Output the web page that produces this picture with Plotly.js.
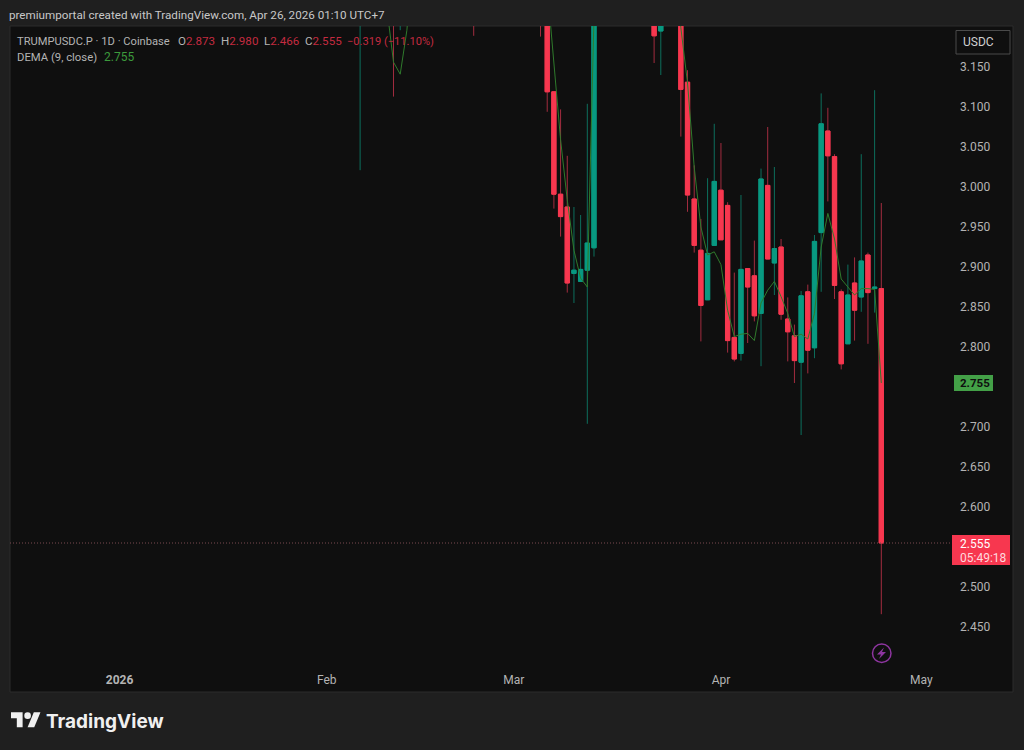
<!DOCTYPE html>
<html><head><meta charset="utf-8">
<script src="https://cdn.plot.ly/plotly-3.0.1.min.js"></script>
<style>html,body{margin:0;padding:0;background:#1f1f1f;overflow:hidden}#chart{width:1024px;height:750px}</style>
</head><body><div id="chart"></div>
<script>
// Candle values; bodies above the visible top are estimates.
const dates = ['2026-02-06','2026-02-11','2026-02-12','2026-02-23','2026-03-05','2026-03-06','2026-03-07','2026-03-08','2026-03-09','2026-03-10','2026-03-11','2026-03-12','2026-03-13','2026-03-22','2026-03-23','2026-03-26','2026-03-27','2026-03-28','2026-03-29','2026-03-30','2026-03-31','2026-04-01','2026-04-02','2026-04-03','2026-04-04','2026-04-05','2026-04-06','2026-04-07','2026-04-08','2026-04-09','2026-04-10','2026-04-11','2026-04-12','2026-04-13','2026-04-14','2026-04-15','2026-04-16','2026-04-17','2026-04-18','2026-04-19','2026-04-20','2026-04-21','2026-04-22','2026-04-23','2026-04-24','2026-04-25'];
const opens  = [3.25,3.35,3.25,3.40,3.40,3.28,3.119,2.991,2.975,2.892,2.882,2.896,2.924,3.28,3.195,3.30,3.131,2.985,2.921,2.859,2.927,2.996,2.977,2.812,2.792,2.898,2.889,2.842,3.002,2.905,2.925,2.835,2.814,2.781,2.869,2.799,2.943,3.070,3.038,2.869,2.804,2.880,2.8625,2.915,2.873,2.873];
const highs  = [3.50,3.40,3.36,3.45,3.45,3.32,3.119,3.097,3.039,2.975,2.965,3.104,3.40,3.32,3.30,3.35,3.146,3.027,2.960,3.011,3.079,3.055,2.981,2.893,2.990,2.898,2.933,3.023,3.075,3.025,2.935,2.862,2.828,2.870,2.878,2.940,3.117,3.099,3.041,2.872,2.903,2.912,3.041,2.918,3.121,2.980];
const lows   = [3.021,3.113,3.196,3.189,3.188,3.094,2.973,2.938,2.868,2.855,2.882,2.704,2.913,3.155,3.140,3.063,2.969,2.918,2.807,2.859,2.927,2.934,2.793,2.782,2.783,2.805,2.832,2.776,2.910,2.865,2.834,2.782,2.755,2.690,2.767,2.786,2.869,2.982,2.860,2.772,2.804,2.808,2.844,2.804,2.843,2.466];
const closes = [3.35,3.25,3.30,3.30,3.28,3.119,2.991,2.963,2.880,2.896,2.897,2.930,3.30,3.189,3.25,3.122,2.990,2.927,2.852,2.917,3.007,2.934,2.808,2.785,2.897,2.875,2.839,3.010,2.910,2.923,2.841,2.819,2.783,2.864,2.796,2.932,3.079,3.039,2.877,2.779,2.865,2.846,2.9075,2.868,2.875,2.555];
const demaDates = ['2026-02-09','2026-02-10','2026-02-11','2026-02-12','2026-02-13','2026-02-14','2026-02-15','2026-03-05','2026-03-06','2026-03-07','2026-03-08','2026-03-09','2026-03-10','2026-03-11','2026-03-12','2026-03-13','2026-03-14','2026-03-25','2026-03-26','2026-03-27','2026-03-28','2026-03-29','2026-03-30','2026-03-31','2026-04-01','2026-04-02','2026-04-03','2026-04-04','2026-04-05','2026-04-06','2026-04-07','2026-04-08','2026-04-09','2026-04-10','2026-04-11','2026-04-12','2026-04-13','2026-04-14','2026-04-15','2026-04-16','2026-04-17','2026-04-18','2026-04-19','2026-04-20','2026-04-21','2026-04-22','2026-04-23','2026-04-24','2026-04-25'];
const demaValues = [3.33,3.224,3.156,3.141,3.196,3.30,null,null,3.251,3.155,3.059,2.984,2.921,2.886,2.875,3.212,3.33,3.30,3.199,3.13,3.025,2.95,2.915,2.919,2.903,2.846,2.813,2.816,2.817,2.808,2.855,2.871,2.882,2.863,2.842,2.813,2.816,2.810,2.842,2.925,2.967,2.935,2.885,2.875,2.865,2.873,2.873,2.872,2.755];
const priceTicks = [3.15,3.10,3.05,3.00,2.95,2.90,2.85,2.80,2.70,2.65,2.60,2.50,2.45];
const timeTicks = ['2026-01-01','2026-02-01','2026-03-01','2026-04-01','2026-05-01'];
const timeLabels = ['<b>2026</b>','Feb','Mar','Apr','May'];
const lastPrice = 2.555, lastDema = 2.755;

const UI = 'Roboto, sans-serif';
const L=10,R=955,T=26,B=665;
const px = x => (x-L)/(R-L);
const py = y => (B-y)/(B-T);
const path = pts => pts.map((p,i)=>(i?'L':'M')+px(p[0]).toFixed(5)+','+py(p[1]).toFixed(5)).join(' ')+' Z';
const logo = (ox,oy,s,pts) => path(pts.map(p=>[ox+p[0]*s,oy+p[1]*s]));
const rect = (x0,y0,x1,y1,fill,line,layer) => ({type:'rect',xref:'paper',yref:'paper',x0:px(x0),x1:px(x1),y0:py(y1),y1:py(y0),fillcolor:fill,line:{color:line||fill,width:line?1:0},layer:layer||'above'});
const note = (x,y,text,size,color,extra) => Object.assign({xref:'paper',yref:'paper',x:px(x),y:py(y),xanchor:'left',yanchor:'middle',showarrow:false,text,borderpad:0,borderwidth:0,font:{family:UI,size,color}},extra||{});

const wicks = {
  type:'candlestick',x:dates,open:opens,high:highs,low:lows,close:closes,whiskerwidth:0,hoverinfo:'skip',
  increasing:{line:{color:'#0d6f5d',width:1},fillcolor:'#089981'},
  decreasing:{line:{color:'#a32c3f',width:1},fillcolor:'#f7374f'}
};
const bodies = {
  type:'candlestick',x:dates,open:opens,close:closes,
  high:opens.map((o,i)=>Math.max(o,closes[i])),low:opens.map((o,i)=>Math.min(o,closes[i])),
  whiskerwidth:0,hoverinfo:'skip',
  increasing:{line:{color:'#089981',width:1},fillcolor:'#089981'},
  decreasing:{line:{color:'#f7374f',width:1},fillcolor:'#f7374f'}
};
const dema = {type:'scatter',mode:'lines',x:demaDates,y:demaValues,connectgaps:false,hoverinfo:'skip',line:{color:'#2f7a2c',width:1}};

const grey='#b4b4b4', red='#c42b40', green='#3c9a3c';
const s=(c,t)=>`<span style="color:${c}">${t}</span>`;
const layout = {
  width:1024,height:750,autosize:false,showlegend:false,dragmode:false,boxmode:'overlay',boxgap:0.2,boxgroupgap:0.2,
  margin:{l:L,r:1024-R,t:T,b:750-B,pad:0},
  paper_bgcolor:'#1f1f1f',plot_bgcolor:'rgba(0,0,0,0)',
  xaxis:{type:'date',range:['2025-12-15 14:24','2026-05-06 00:43'],rangeslider:{visible:false},tickmode:'array',tickvals:timeTicks,ticktext:timeLabels,showgrid:false,zeroline:false,showline:false,ticks:'',ticklabelstandoff:6,tickfont:{family:UI,size:12,color:grey}},
  yaxis:{side:'right',range:[2.4025,3.20125],tickmode:'array',tickvals:priceTicks,tickformat:'.3f',showgrid:false,zeroline:false,showline:false,ticks:'',ticklabelstandoff:4,tickfont:{family:UI,size:12,color:grey}},
  shapes:[
    rect(10,26,1013,692,'#0f0f0f','#2c2c2c','below'),
    {type:'line',xref:'paper',yref:'y',x0:0,x1:px(953),y0:lastPrice,y1:lastPrice,line:{color:'#7a4a50',width:1,dash:'1px,2px'},layer:'above'},
    rect(956,30.5,1010,54,'#0f0f0f','#4a4a4a'),
    rect(954,375,993,391,'#43a047'),
    rect(952,535,1010,565,'#f7374f'),
    {type:'circle',xref:'paper',yref:'paper',x0:px(872.5),x1:px(891),y0:py(662.5),y1:py(644),line:{color:'#8e35a0',width:1.5},layer:'above'},
    {type:'path',xref:'paper',yref:'paper',path:path([[884,647.5],[877,654.5],[881,654.5],[879,659],[886,652],[882,652]]),fillcolor:'#8e35a0',line:{width:0},layer:'above'},
    {type:'path',xref:'paper',yref:'paper',path:logo(11,709,0.83,[[14,22],[7,22],[7,11],[0,11],[0,4],[14,4]]),fillcolor:'#f0f0f0',line:{width:0},layer:'above'},
    {type:'path',xref:'paper',yref:'paper',path:logo(11,709,0.83,[[28,22],[20,22],[27.5,4],[35.5,4]]),fillcolor:'#f0f0f0',line:{width:0},layer:'above'},
    {type:'circle',xref:'paper',yref:'paper',x0:px(11+16*0.83),x1:px(11+24*0.83),y0:py(709+12*0.83),y1:py(709+4*0.83),fillcolor:'#f0f0f0',line:{width:0},layer:'above'}
  ],
  annotations:[
    note(9,15,'premiumportal created with TradingView.com, Apr 26, 2026 01:10 UTC+7',11.65,'#c8c8c8'),
    note(17,41,'TRUMPUSDC.P · 1D · Coinbase',11.15,grey),
    note(178,41,`O${s(red,'2.873')}`,11.6,grey),
    note(221,41,`H${s(red,'2.980')}`,11.6,grey),
    note(264,41,`L${s(red,'2.466')}`,11.6,grey),
    note(305,41,`C${s(red,'2.555')}`,11.6,grey),
    note(347,41,'−0.319 (−11.10%)',11.1,red),
    note(17,57,'DEMA (9, close)',11.3,grey),
    note(104,57,'2.755',12,green),
    note(963,42,'USDC',12,'#d0d0d0'),
    note(960,383,'<b>2.755</b>',11.5,'#0f0f0f'),
    note(960,543.5,'2.555',12,'#ffffff'),
    note(960,558,'05:49:18',12,'#ffd9de'),
    note(46,721,'<b>TradingView</b>',19.5,'#f0f0f0',{font:{family:'Inter, sans-serif',size:19,color:'#f0f0f0'}})
  ]
};
Plotly.newPlot('chart',[dema,wicks,bodies],layout,{displayModeBar:false,staticPlot:true});
</script></body></html>
